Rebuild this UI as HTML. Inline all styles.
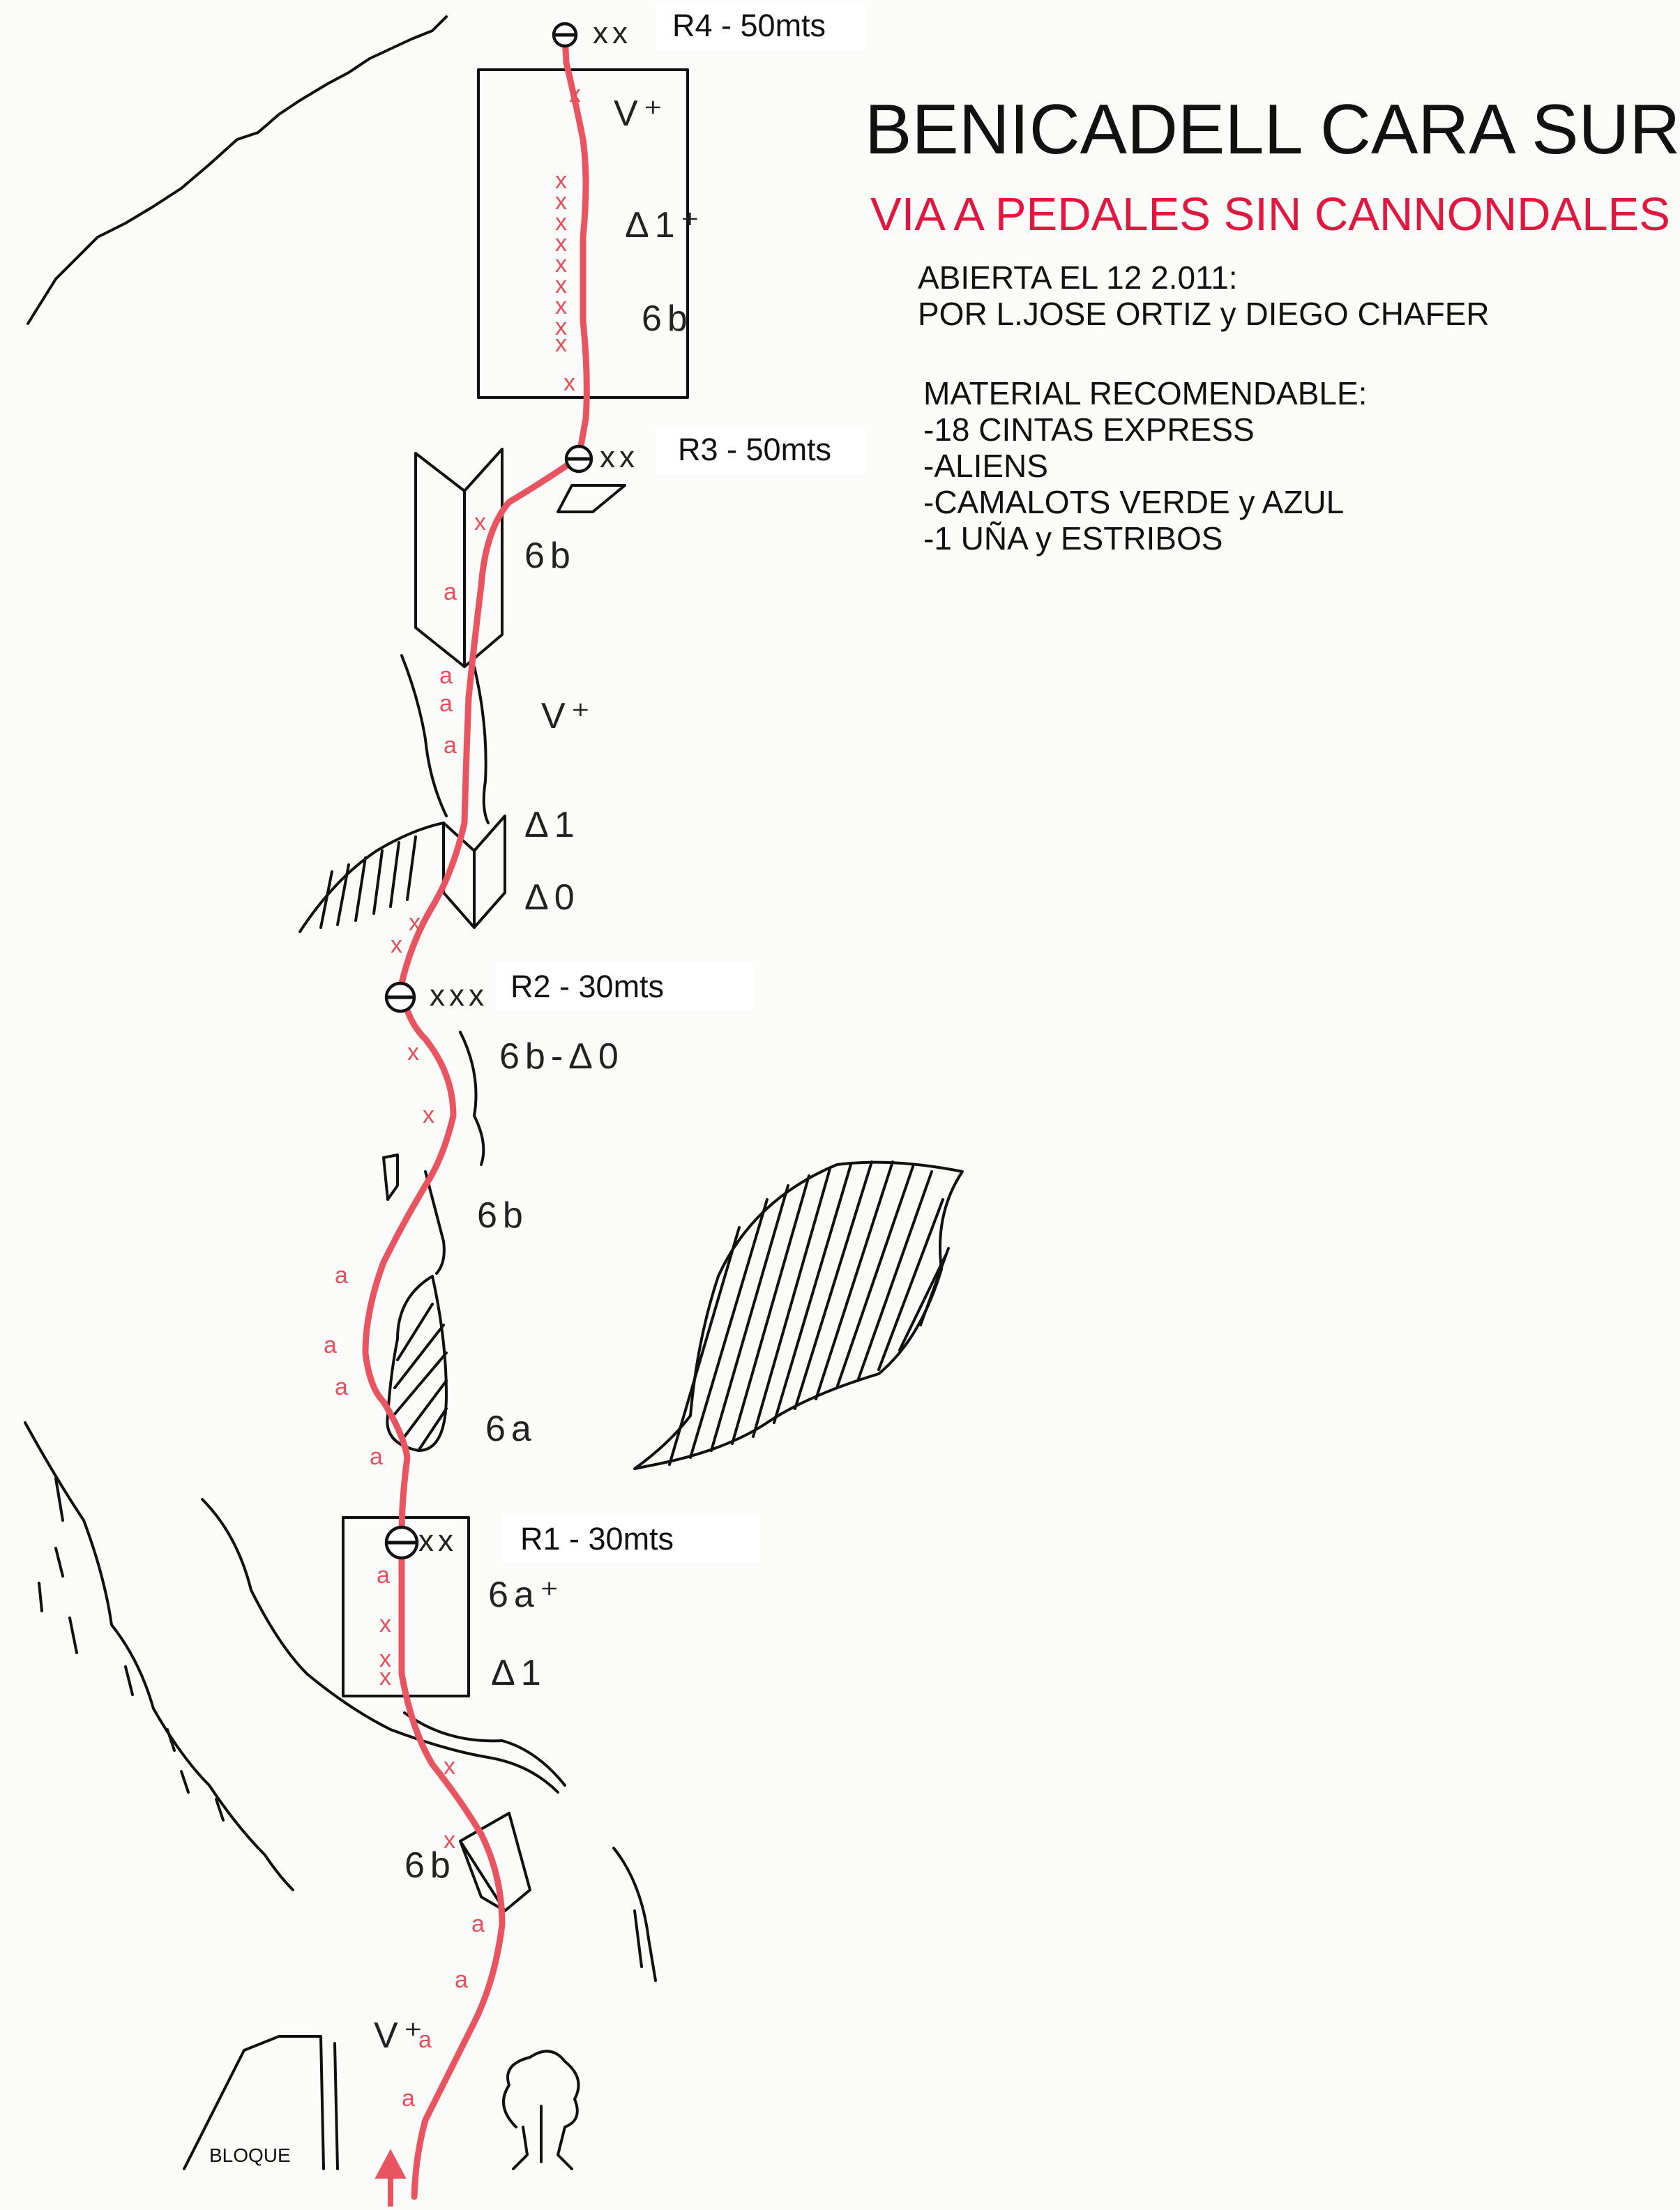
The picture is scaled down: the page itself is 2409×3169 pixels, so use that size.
<!DOCTYPE html>
<html><head><meta charset="utf-8"><style>
html,body{margin:0;padding:0;background:#fbfbf9;}
svg{display:block}
.t{font-family:"Liberation Sans",sans-serif;fill:#111}
.h{font-family:"Liberation Sans",sans-serif;fill:#222;font-size:26px;letter-spacing:4px}
.g{font-family:"Liberation Sans",sans-serif;fill:#222;font-size:22px;letter-spacing:3px}
.r{fill:none;stroke:#e85560;stroke-width:4.5;stroke-linecap:round;stroke-linejoin:round}
.k{fill:none;stroke:#111;stroke-width:2;stroke-linecap:round;stroke-linejoin:round}
.rx{font-family:"Liberation Sans",sans-serif;fill:#e2505c;font-size:17px}
</style></head><body>
<svg width="2409" height="3169" viewBox="0 0 1204.5 1584.5" xmlns="http://www.w3.org/2000/svg">
<rect width="1204.5" height="1584.5" fill="#fbfbf9"/>
<rect x="470" y="2" width="150" height="34" fill="#fff"/>
<rect x="470" y="306" width="150" height="34" fill="#fff"/>
<rect x="355" y="690" width="185" height="34" fill="#fff"/>
<rect x="360" y="1086" width="185" height="34" fill="#fff"/>
<text class="t" x="620" y="110" font-size="50.5">BENICADELL CARA SUR</text>
<text class="t" x="624" y="165" font-size="33.5" style="fill:#e0183f">VIA A PEDALES SIN CANNONDALES</text>
<text class="t" x="658" y="207" font-size="23">ABIERTA EL 12 2.011:</text>
<text class="t" x="658" y="233" font-size="23">POR L.JOSE ORTIZ y DIEGO CHAFER</text>
<text class="t" x="662" y="290" font-size="23">MATERIAL RECOMENDABLE:</text>
<text class="t" x="662" y="316" font-size="23">-18 CINTAS EXPRESS</text>
<text class="t" x="662" y="342" font-size="23">-ALIENS</text>
<text class="t" x="662" y="368" font-size="23">-CAMALOTS VERDE y  AZUL</text>
<text class="t" x="662" y="394" font-size="23">-1 UÑA y ESTRIBOS</text>
<text class="t" x="482" y="26" font-size="22.5">R4 - 50mts</text>
<text class="t" x="486" y="330" font-size="22.5">R3 - 50mts</text>
<text class="t" x="366" y="715" font-size="22.5">R2 - 30mts</text>
<text class="t" x="373" y="1111" font-size="22.5">R1 - 30mts</text>
<path class="k" d="M20 232 L40 200 L55 185 L70 170 L90 160 L110 148 L130 135 L150 118 L170 100 L185 95 L200 82 L215 72 L235 60 L250 52 L265 42 L280 35 L295 28 L310 22 L320 12"/>
<rect class="k" x="343" y="50" width="150" height="235"/>
<rect class="k" x="246" y="1088" width="90" height="128"/>
<path class="k" d="M298 325 L298 450 L333 478 L360 455 L360 322 L333 352 L298 325 M333 352 L333 478"/>
<path class="k" d="M318 590 L318 640 L340 665 L362 640 L362 585 L340 610 L318 590 M340 610 L340 665"/>
<path class="k" d="M288 470 Q300 500 305 530 Q308 560 320 585"/>
<path class="k" d="M340 478 Q350 520 348 560 Q345 580 350 590"/>
<path class="k" d="M215 668 Q240 630 270 610 Q295 595 318 590"/>
<path class="k" d="M230 665 L238 625 M242 663 L250 620 M255 660 L262 615 M268 655 L274 610 M280 650 L286 604 M292 645 L298 600"/>
<path class="k" d="M400 367 L425 367 L448 348 L410 348 Z"/>
<path class="k" d="M455 1053 Q480 1035 495 1015 Q500 960 515 915 Q540 860 600 835 Q640 830 690 840 Q670 870 675 910 Q660 960 630 985 Q580 1000 550 1020 Q520 1040 470 1050 Z"/>
<g class="k">
<path d="M480 1050 L530 880 M495 1045 L550 860 M510 1040 L565 850 M525 1035 L580 843 M540 1030 L595 838 M555 1020 L610 835 M570 1010 L625 833 M585 1003 L640 833 M600 995 L655 835 M615 990 L668 840 M630 982 L676 860 M645 968 L678 900 M660 950 L680 895"/>
</g>
<path class="k" d="M285 960 Q285 930 310 915 Q320 960 320 1000 Q320 1040 300 1040 Q275 1035 278 1015 Q280 985 285 960 Z"/>
<path class="k" d="M285 975 L310 935 M283 995 L318 950 M282 1015 L320 970 M290 1030 L320 990 M300 1040 L320 1010"/>
<path class="k" d="M305 840 L318 890 Q320 905 313 913"/>
<path class="k" d="M275 830 L285 828 L285 850 L278 860 Z"/>
<path class="k" d="M330 740 Q345 770 340 800 Q350 820 345 835"/>
<path class="k" d="M18 1020 Q40 1060 60 1090 Q75 1130 80 1165 Q100 1190 110 1225 Q130 1260 150 1280 Q170 1310 190 1330 Q200 1345 210 1355"/>
<path class="k" d="M145 1075 Q170 1100 180 1140 Q200 1180 220 1200 Q250 1225 280 1240 Q320 1255 350 1260 Q380 1265 400 1285"/>
<path class="k" d="M290 1228 Q320 1250 360 1248 Q385 1255 405 1280"/>
<path class="k" d="M40 1060 L45 1090 M40 1110 L45 1130 M28 1135 L30 1155 M50 1160 L55 1185 M90 1195 L95 1215 M120 1240 L125 1255 M130 1270 L135 1285 M155 1290 L160 1305"/>
<path class="k" d="M440 1325 Q460 1350 465 1390 L470 1420 M455 1370 L460 1410"/>
<path class="k" d="M330 1320 L365 1300 L380 1355 L362 1370 L345 1360 Z M330 1320 L362 1370"/>
<path class="k" d="M132 1555 Q160 1500 175 1470 L200 1460 L230 1460 L232 1555 M240 1465 L242 1555"/>
<text class="t" x="150" y="1550" font-size="14">BLOQUE</text>
<path class="k" d="M370 1525 Q355 1510 365 1495 Q360 1480 380 1475 Q395 1465 405 1478 Q420 1490 412 1505 Q418 1520 405 1525 L400 1545 L410 1555 M375 1525 L378 1545 L368 1555 M388 1510 L388 1550"/>
<path class="r" d="M405 25 L406 45 Q412 70 418 100 Q422 130 418 170 L418 230 Q422 270 420 300 L415 328 Q390 345 365 360 Q348 380 345 420 Q340 460 336 500 Q334 550 333 590 Q325 625 310 650 Q295 675 288 705 Q290 730 305 745 Q325 770 325 800 Q318 830 305 850 Q290 875 275 905 Q262 940 262 970 Q265 995 275 1005 Q290 1030 292 1045 Q288 1075 288 1100 L288 1200 Q295 1240 310 1265 Q330 1290 345 1315 Q360 1345 360 1380 Q355 1420 340 1450 Q320 1490 305 1520 Q298 1545 297 1575"/>
<path d="M272 1560 L280 1545 L288 1560 Z M280 1555 L280 1582" fill="#e85560" stroke="#e85560" stroke-width="4"/>
<g fill="#fff" stroke="#111" stroke-width="2.2">
<circle cx="405" cy="25" r="8"/><circle cx="415" cy="329" r="9"/><circle cx="287" cy="715" r="10"/><circle cx="288" cy="1106" r="11"/>
</g>
<path d="M397 25 L413 25 M407 329 L423 329 M278 715 L296 715 M278 1106 L298 1106" stroke="#111" stroke-width="2.5"/>
<text class="g" x="425" y="31" font-size="19">xx</text>
<text class="g" x="430" y="335" font-size="19">xx</text>
<text class="g" x="308" y="721" font-size="19">xxx</text>
<text class="g" x="300" y="1112" font-size="19">xx</text>
<g class="rx">
<text x="408" y="73">x</text>
<text x="398" y="135">x</text><text x="398" y="150">x</text><text x="398" y="165">x</text><text x="398" y="180">x</text><text x="398" y="195">x</text><text x="398" y="210">x</text><text x="398" y="225">x</text><text x="398" y="240">x</text><text x="398" y="252">x</text>
<text x="404" y="280">x</text>
<text x="340" y="380">x</text><text x="318" y="430">a</text>
<text x="315" y="490">a</text><text x="315" y="510">a</text><text x="318" y="540">a</text>
<text x="293" y="667">x</text><text x="280" y="683">x</text>
<text x="292" y="760">x</text><text x="303" y="805">x</text>
<text x="240" y="920">a</text><text x="232" y="970">a</text><text x="240" y="1000">a</text>
<text x="265" y="1050">a</text><text x="270" y="1135">a</text>
<text x="272" y="1170">x</text><text x="272" y="1195">x</text><text x="272" y="1208">x</text>
<text x="318" y="1272">x</text><text x="318" y="1325">x</text>
<text x="338" y="1385">a</text><text x="326" y="1425">a</text><text x="300" y="1468">a</text><text x="288" y="1510">a</text>
</g>
<text class="h" x="440" y="90">V⁺</text>
<text class="h" x="448" y="170">Δ1⁺</text>
<text class="h" x="460" y="237">6b</text>
<text class="h" x="376" y="407">6b</text>
<text class="h" x="388" y="522">V⁺</text>
<text class="h" x="376" y="600">Δ1</text>
<text class="h" x="376" y="652">Δ0</text>
<text class="h" x="358" y="766">6b-Δ0</text>
<text class="h" x="342" y="880">6b</text>
<text class="h" x="348" y="1033">6a</text>
<text class="h" x="350" y="1152">6a⁺</text>
<text class="h" x="352" y="1208">Δ1</text>
<text class="h" x="290" y="1346">6b</text>
<text class="h" x="268" y="1468">V⁺</text>
</svg>
</body></html>
